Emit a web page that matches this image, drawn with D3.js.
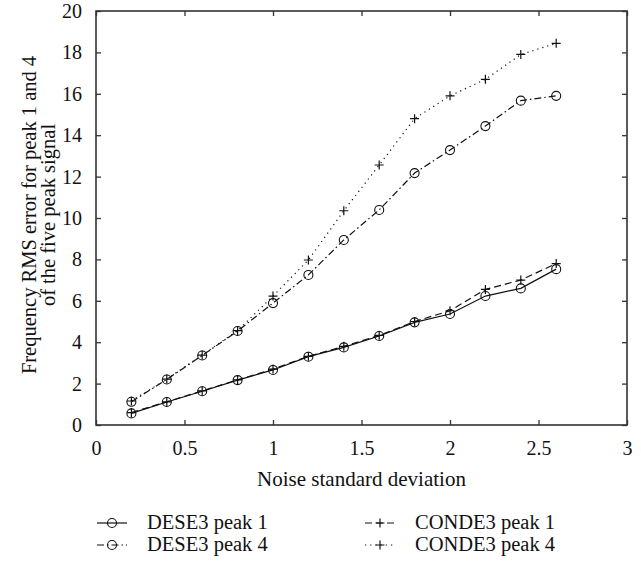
<!DOCTYPE html>
<html>
<head>
    <meta charset="utf-8">
    <title>Frequency RMS error vs noise</title>
    <script src="https://d3js.org/d3.v7.min.js"></script>
    <style>
        html, body {
            margin: 0;
            background: #fff;
        }
        text {
            font-family: "Liberation Serif", "DejaVu Serif", serif;
            fill: #111;
        }
    </style>
</head>
<body>
    <svg id="svg"></svg>
    <script>
        // values
        const noise = [0.2, 0.4, 0.6, 0.8, 1.0, 1.2, 1.4, 1.6, 1.8, 2.0, 2.2, 2.4, 2.6];
        const dese3Peak1 = [0.56, 1.11, 1.63, 2.17, 2.66, 3.3, 3.75, 4.3, 4.96, 5.36, 6.23, 6.6, 7.53];
        const conde3Peak1 = [0.6, 1.12, 1.65, 2.18, 2.7, 3.32, 3.8, 4.33, 5.0, 5.52, 6.55, 7.0, 7.8];
        const dese3Peak4 = [1.12, 2.2, 3.36, 4.54, 5.89, 7.25, 8.94, 10.39, 12.17, 13.28, 14.44, 15.67, 15.9];
        const conde3Peak4 = [1.16, 2.22, 3.38, 4.56, 6.23, 7.97, 10.35, 12.56, 14.8, 15.9, 16.7, 17.9, 18.44];
        const xTicks = [0, 0.5, 1, 1.5, 2, 2.5, 3];
        const yTicks = [0, 2, 4, 6, 8, 10, 12, 14, 16, 18, 20];

        const series = [
            {name: "DESE3 peak 1", values: dese3Peak1, dash: null, marker: "circle"},
            {name: "CONDE3 peak 1", values: conde3Peak1, dash: "7,4", marker: "plus"},
            {name: "DESE3 peak 4", values: dese3Peak4, dash: "7,3,1.5,3", marker: "circle"},
            {name: "CONDE3 peak 4", values: conde3Peak4, dash: "1.2,4", marker: "plus"}
        ];

        const width = 641, height = 562;
        const plot = {left: 96, right: 627, top: 11, bottom: 425};
        const tickLen = 5;

        const svg = d3.select("#svg")
        .attr("width", width)
        .attr("height", height);

        const x = d3.scaleLinear().domain([0, 3]).range([plot.left, plot.right]);
        const y = d3.scaleLinear().domain([0, 20]).range([plot.bottom, plot.top]);

        // ticks on all four sides, pointing inward
        const axisColor = "#333";
        const bottomAxis = svg.append("g")
        .attr("transform", `translate(0, ${plot.bottom})`)
        .call(d3.axisBottom(x).tickValues(xTicks).tickSize(-tickLen).tickPadding(16).tickFormat(d3.format("")));
        const topAxis = svg.append("g")
        .attr("transform", `translate(0, ${plot.top})`)
        .call(d3.axisTop(x).tickValues(xTicks).tickSize(-tickLen).tickFormat(""));
        const leftAxis = svg.append("g")
        .attr("transform", `translate(${plot.left}, 0)`)
        .call(d3.axisLeft(y).tickValues(yTicks).tickSize(-tickLen).tickPadding(14));
        const rightAxis = svg.append("g")
        .attr("transform", `translate(${plot.right}, 0)`)
        .call(d3.axisRight(y).tickValues(yTicks).tickSize(-tickLen).tickFormat(""));

        [bottomAxis, topAxis, leftAxis, rightAxis].forEach(g => {
            g.select(".domain").remove();
            g.selectAll(".tick line").attr("stroke", axisColor).attr("stroke-width", 1.3);
            g.selectAll(".tick text").style("font-size", "20px").attr("fill", "#111")
            .style("font-family", "'Liberation Serif', serif");
        });

        svg.append("rect")
        .attr("x", plot.left)
        .attr("y", plot.top)
        .attr("width", plot.right - plot.left)
        .attr("height", plot.bottom - plot.top)
        .attr("fill", "none")
        .attr("stroke", axisColor)
        .attr("stroke-width", 1.6);

        const line = d3.line()
        .x(d => x(d[0]))
        .y(d => y(d[1]));

        function drawMarker(g, kind, cx, cy) {
            if (kind === "circle") {
                g.append("circle")
                .attr("cx", cx).attr("cy", cy).attr("r", 4.5)
                .attr("fill", "none").attr("stroke", "#111").attr("stroke-width", 1.1);
            } else {
                g.append("path")
                .attr("d", `M${cx - 4.5},${cy}H${cx + 4.5}M${cx},${cy - 4.5}V${cy + 4.5}`)
                .attr("stroke", "#111").attr("stroke-width", 1.2).attr("fill", "none");
            }
        }

        series.forEach(s => {
            const pts = noise.map((n, i) => [n, s.values[i]]);
            const g = svg.append("g");
            g.append("path")
            .attr("d", line(pts))
            .attr("fill", "none")
            .attr("stroke", "#111")
            .attr("stroke-width", 1.2)
            .attr("stroke-dasharray", s.dash);
            pts.forEach(p => drawMarker(g, s.marker, x(p[0]), y(p[1])));
        });

        // axis titles
        svg.append("text")
        .attr("x", (plot.left + plot.right) / 2)
        .attr("y", 486)
        .attr("text-anchor", "middle")
        .style("font-size", "21px")
        .text("Noise standard deviation");

        const yTitle = svg.append("text")
        .attr("transform", `translate(36, 215) rotate(-90)`)
        .attr("text-anchor", "middle")
        .style("font-size", "20.5px");
        yTitle.append("tspan").attr("x", 0).attr("dy", 0).text("Frequency RMS error for peak 1 and 4");
        yTitle.append("tspan").attr("x", 0).attr("dy", 19).text("of the five peak signal");

        // legend, two columns
        const legendCols = [97, 365];
        const legendRows = [529, 551];
        series.forEach((s, i) => {
            const lx = legendCols[i % 2];
            const ly = legendRows[Math.floor(i / 2)];
            const g = svg.append("g");
            g.append("line")
            .attr("x1", lx).attr("x2", lx + 30)
            .attr("y1", ly - 6).attr("y2", ly - 6)
            .attr("stroke", "#111").attr("stroke-width", 1.2)
            .attr("stroke-dasharray", s.dash);
            drawMarker(g, s.marker, lx + 15, ly - 6);
            g.append("text")
            .attr("x", lx + 50)
            .attr("y", ly)
            .style("font-size", "20.5px")
            .text(s.name);
        });
    </script>
</body>
</html>
